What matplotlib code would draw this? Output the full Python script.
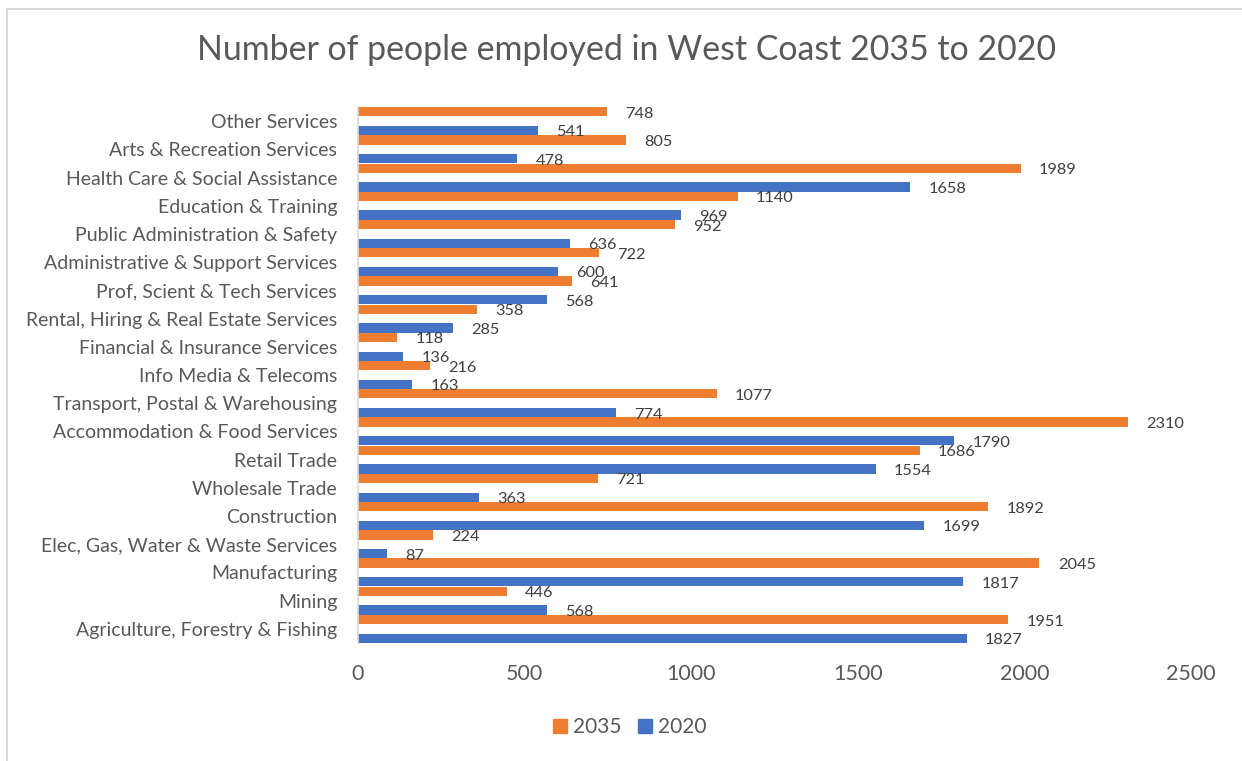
import matplotlib.pyplot as plt
from matplotlib.lines import Line2D
from matplotlib.patches import Patch

# industries, top to bottom as listed on the chart
industries = [
    "Other Services",
    "Arts & Recreation Services",
    "Health Care & Social Assistance",
    "Education & Training",
    "Public Administration & Safety",
    "Administrative & Support Services",
    "Prof, Scient & Tech Services",
    "Rental, Hiring & Real Estate Services",
    "Financial & Insurance Services",
    "Info Media & Telecoms",
    "Transport, Postal & Warehousing",
    "Accommodation & Food Services",
    "Retail Trade",
    "Wholesale Trade",
    "Construction",
    "Elec, Gas, Water & Waste Services",
    "Manufacturing",
    "Mining",
    "Agriculture, Forestry & Fishing",
]
employed_2035 = [748, 805, 1989, 1140, 952, 722, 641, 358, 118, 216,
                 1077, 2310, 1686, 721, 1892, 224, 2045, 446, 1951]
employed_2020 = [541, 478, 1658, 969, 636, 600, 568, 285, 136, 163,
                 774, 1790, 1554, 363, 1699, 87, 1817, 568, 1827]
x_ticks = [0, 500, 1000, 1500, 2000, 2500]

ORANGE = "#ED7D31"
BLUE = "#4472C4"
GREY = "#595959"
FONT = "Lato"

W, H = 1242, 761
fig = plt.figure(figsize=(W / 100, H / 100), dpi=100)
ax = fig.add_axes([358 / W, 1 - 643 / H, 833 / W, 536 / H])

n = len(industries)
ypos = [n - 1 - i for i in range(n)]
off = 0.332
bh = 0.33

ax.barh([y + off for y in ypos], employed_2035, height=bh, color=ORANGE)
ax.barh([y - off for y in ypos], employed_2020, height=bh, color=BLUE)

for y, v in zip(ypos, employed_2035):
    ax.text(v + 55, y + off - 0.07, str(v), fontsize=11.8, color="#404040",
            family=FONT, va="center", ha="left")
for y, v in zip(ypos, employed_2020):
    ax.text(v + 55, y - off - 0.07, str(v), fontsize=11.8, color="#404040",
            family=FONT, va="center", ha="left")

ax.set_xlim(0, 2500)
ax.set_ylim(-0.5, n - 0.5)
ax.set_yticks(ypos)
ax.set_yticklabels(industries, fontsize=14, color=GREY, family=FONT)
ax.set_xticks(x_ticks)
ax.set_xticklabels([str(t) for t in x_ticks], fontsize=15.5, color=GREY,
                   family=FONT)
ax.tick_params(axis="y", length=0, pad=15)
ax.tick_params(axis="x", length=0, pad=15)

for s in ["top", "right", "bottom"]:
    ax.spines[s].set_visible(False)
ax.spines["left"].set_color("#D9D9D9")
ax.spines["left"].set_linewidth(1.2)

fig.text(627 / W, 1 - 50 / H, "Number of people employed in West Coast 2035 to 2020",
         ha="center", va="center", fontsize=24.4, color=GREY, family=FONT)

handles = [Patch(color=ORANGE, label="2035"), Patch(color=BLUE, label="2020")]
fig.legend(handles=handles, loc="center", bbox_to_anchor=(630 / W, 1 - 727 / H),
           ncol=2, frameon=False, prop={"family": FONT, "size": 15},
           labelcolor=GREY, handlelength=0.65, handleheight=0.65,
           handletextpad=0.3, columnspacing=0.8)

# chart area border (top and left edges)
fig.add_artist(Line2D([7 / W, 7 / W], [0, 1 - 8.5 / H], transform=fig.transFigure,
                      color="#D9D9D9", linewidth=1.5))
fig.add_artist(Line2D([7 / W, 1], [1 - 8.5 / H, 1 - 8.5 / H], transform=fig.transFigure,
                      color="#D9D9D9", linewidth=1.5))

fig.savefig("out.png", dpi=100)
